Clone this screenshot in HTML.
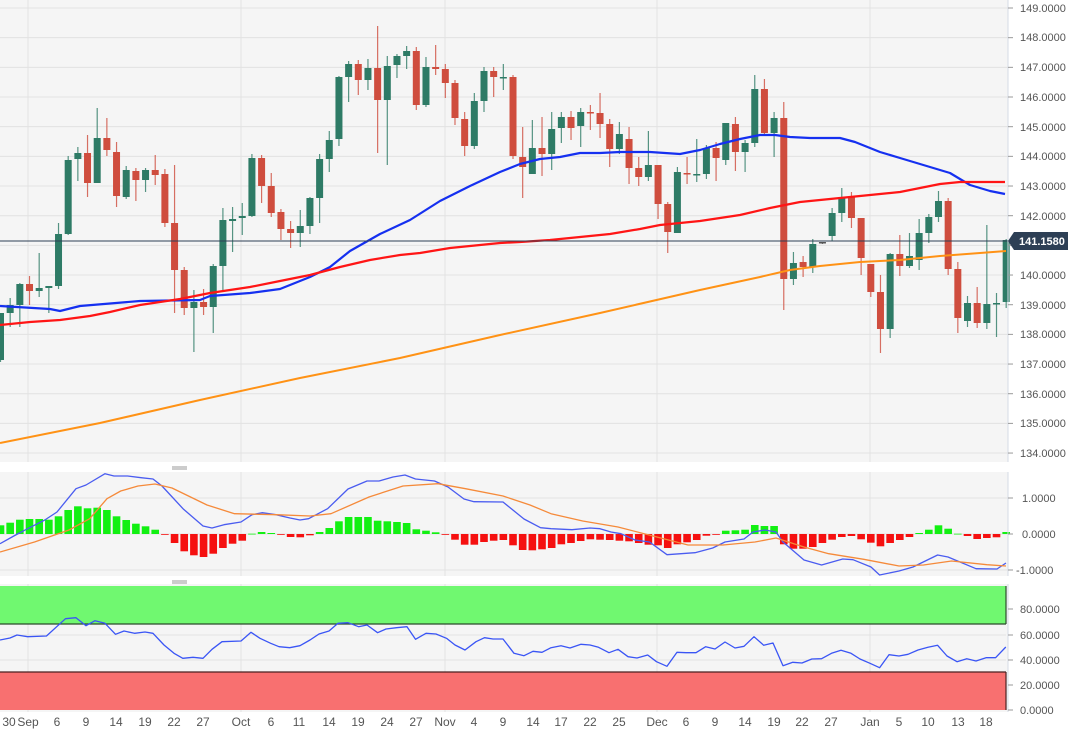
<!DOCTYPE html>
<html><head><meta charset="utf-8"><style>
html,body{margin:0;padding:0;background:#fff;}
svg{display:block;font-family:"Liberation Sans",sans-serif;}
</style></head><body>
<svg id="s" width="1081" height="744" viewBox="0 0 1081 744" xmlns="http://www.w3.org/2000/svg">
<rect x="0" y="0" width="1081" height="744" fill="#fff"/>
<rect x="0" y="0" width="1008" height="462" fill="#f5f5f5"/>
<rect x="0" y="472" width="1008" height="104" fill="#f5f5f5"/>
<rect x="0" y="584" width="1008" height="128" fill="#f5f5f5"/>
<g id="grid" stroke="#e2e2e2" stroke-width="1"></g>
<g id="rsibands">
<rect x="0" y="586" width="1006" height="38" fill="#70f870"/>
<rect x="0" y="672" width="1006" height="38" fill="#f87070"/>
<line x1="0" y1="624" x2="1006" y2="624" stroke="#2a4a2a" stroke-width="1.2"/>
<line x1="0" y1="672" x2="1006" y2="672" stroke="#4a2020" stroke-width="1.2"/>
<line x1="1006" y1="586" x2="1006" y2="624" stroke="#2a4a2a" stroke-width="1.2"/>
<line x1="1006" y1="672" x2="1006" y2="710" stroke="#4a2020" stroke-width="1.2"/>
</g>
<g id="hist"></g>
<g id="cand"></g>
<g id="lines" fill="none"></g>
<line x1="0" y1="241" x2="1008" y2="241" stroke="#2d3f55" stroke-width="1"/>
<g stroke="#d5dbe5"><line x1="1008" y1="0" x2="1008" y2="462"/><line x1="1008" y1="472" x2="1008" y2="576"/><line x1="1008" y1="584" x2="1008" y2="712"/></g>
<g stroke="#999" stroke-width="1"><line x1="172" y1="467" x2="187" y2="467"/><line x1="172" y1="469" x2="187" y2="469"/><line x1="172" y1="581" x2="187" y2="581"/><line x1="172" y1="583" x2="187" y2="583"/></g>
<g id="axis" font-size="11" fill="#555"></g>
<polygon points="1008,241 1014,232 1068,232 1068,250 1014,250" fill="#2d3f55"/>
<text x="1019" y="245" font-size="11" font-weight="bold" fill="#fff">141.1580</text>
<g id="xl" font-size="12" fill="#555" text-anchor="middle">
<text x="9" y="726">30</text><text x="28" y="726">Sep</text><text x="57" y="726">6</text><text x="86" y="726">9</text><text x="116" y="726">14</text><text x="145" y="726">19</text><text x="174" y="726">22</text><text x="203" y="726">27</text><text x="241" y="726">Oct</text><text x="271" y="726">6</text><text x="299" y="726">11</text><text x="329" y="726">14</text><text x="358" y="726">19</text><text x="387" y="726">24</text><text x="416" y="726">27</text><text x="445" y="726">Nov</text><text x="474" y="726">4</text><text x="503" y="726">9</text><text x="533" y="726">14</text><text x="561" y="726">17</text><text x="590" y="726">22</text><text x="619" y="726">25</text><text x="657" y="726">Dec</text><text x="686" y="726">6</text><text x="715" y="726">9</text><text x="745" y="726">14</text><text x="774" y="726">19</text><text x="802" y="726">22</text><text x="831" y="726">27</text><text x="870" y="726">Jan</text><text x="899" y="726">5</text><text x="928" y="726">10</text><text x="958" y="726">13</text><text x="986" y="726">18</text>
</g>
<g font-size="11" fill="#555">
<text x="1020" y="12">149.0000</text><text x="1020" y="41">148.0000</text><text x="1020" y="71">147.0000</text><text x="1020" y="101">146.0000</text><text x="1020" y="131">145.0000</text><text x="1020" y="160">144.0000</text><text x="1020" y="190">143.0000</text><text x="1020" y="220">142.0000</text><text x="1020" y="279">140.0000</text><text x="1020" y="309">139.0000</text><text x="1020" y="338">138.0000</text><text x="1020" y="368">137.0000</text><text x="1020" y="398">136.0000</text><text x="1020" y="427">135.0000</text><text x="1020" y="457">134.0000</text>
<text x="1022" y="502">1.0000</text><text x="1022" y="538">0.0000</text><text x="1016" y="574">-1.0000</text>
<text x="1020" y="613">80.0000</text><text x="1020" y="639">60.0000</text><text x="1020" y="664">40.0000</text><text x="1020" y="689">20.0000</text><text x="1020" y="714">0.0000</text>
</g>
</svg>
<script>
var NS="http://www.w3.org/2000/svg";
function el(p,t,a){var e=document.createElementNS(NS,t);for(var k in a)e.setAttribute(k,a[k]);document.getElementById(p).appendChild(e);return e;}
// grid
for(var i=0;i<=15;i++){var y=8+i*29.67;el('grid','line',{x1:0,y1:y,x2:1008,y2:y});el('axis','line',{x1:1008,y1:y,x2:1013,y2:y,stroke:'#999'});}
[498,534,570].forEach(function(y){el('grid','line',{x1:0,y1:y,x2:1008,y2:y});el('axis','line',{x1:1008,y1:y,x2:1013,y2:y,stroke:'#999'});});
[635,660].forEach(function(y){el('grid','line',{x1:0,y1:y,x2:1006,y2:y});});
[609,635,660,685,710].forEach(function(y){el('axis','line',{x1:1008,y1:y,x2:1013,y2:y,stroke:'#999'});});
[28,241,445,657,870].forEach(function(x){el('grid','line',{x1:x,y1:0,x2:x,y2:462});el('grid','line',{x1:x,y1:472,x2:x,y2:576});el('grid','line',{x1:x,y1:584,x2:x,y2:712});});
var C=[
['g',313,360,313,362],['g',305,313,298,327],['g',284,305,283,327],['r',284,291,276,305],['g',288,291,253,297],['g',286,288,286,313],['g',234,286,223,289],['g',160,234,156,235],['g',153,159,147,181],['r',153,183,135,197],
['g',138,183,108,183],['r',138,150,118,156],['r',152,196,142,207],['g',170,197,166,199],['r',171,180,168,201],['g',170,180,168,192],['r',170,175,155,185],['r',174,223,169,227],['r',223,270,165,313],['r',270,308,267,315],
['g',302,308,290,352],['r',302,307,289,315],['g',266,307,264,333],['g',220,266,208,292],['g',219,221,207,252],['g',216,218,203,235],['g',158,216,154,217],['r',158,186,155,203],['r',186,213,173,217],['r',212,229,209,240],
['r',229,233,221,248],['g',226,233,210,247],['g',198,226,197,234],['g',159,198,154,223],['g',140,159,131,172],['g',77,139,76,146],['g',64,77,61,102],['r',64,80,60,95],['g',68,80,59,90],['r',68,100,26,153],
['g',66,100,56,165],['g',56,65,54,78],['g',51,56,46,69],['r',51,105,47,110],['g',67,105,57,107],['r',67,69,45,75],['r',69,83,64,98],['r',83,118,80,125],['r',119,146,112,156],['g',101,146,93,149],
['g',71,101,67,112],['r',71,77,67,97],['g',77,78,64,90],['r',77,156,75,159],['r',157,167,127,198],['g',148,174,120,174],['r',148,154,117,176],['g',129,154,112,170],['g',117,128,112,143],['r',117,128,111,140],
['g',112,126,108,147],['r',112,113,105,130],['r',113,124,93,138],['r',124,149,119,167],['g',134,149,122,154],['r',139,168,127,184],['r',168,177,157,186],['g',165,177,131,181],['r',165,204,166,219],['r',204,232,202,253],
['g',172,233,167,233],['r',173,174,157,184],['g',174,175,139,182],['g',148,174,145,179],['r',148,158,142,181],['g',123,160,123,165],['r',124,152,117,171],['g',143,152,140,172],['g',89,143,75,147],['r',89,133,79,135],
['g',118,133,112,157],['r',118,279,102,310],['g',263,279,252,285],['r',262,267,256,277],['g',244,267,239,273],['k',242,243,242,244],['g',213,236,208,241],['g',197,213,188,222],['r',197,218,192,228],['r',218,258,218,275],
['r',264,292,264,297],['r',292,329,275,353],['g',254,329,253,338],['r',254,266,235,276],['g',256,266,233,268],['g',233,260,219,270],['g',217,233,214,243],['g',201,217,191,222],['r',201,269,198,275],['r',269,318,262,333],
['g',303,321,296,327],['r',303,323,287,328],['g',304,323,225,329],['g',303,304,293,337],['g',240,302,239,308]];
var col={g:'#2e7b66',r:'#cf4d3e',k:'#555'};
C.forEach(function(c,i){var x=9.67*i+0.5;var f=col[c[0]];
el('cand','line',{x1:x,y1:c[3],x2:x,y2:c[4],stroke:f,'stroke-width':1.2,opacity:0.8});
el('cand','rect',{x:x-3.5,y:c[1],width:7,height:Math.max(1.5,c[2]-c[1]),fill:f});});
var H=[8.7,11.3,14.3,15,15,14.3,17.7,24,27.7,25.7,26.3,24,17.7,14,10.3,7.7,4.3,-0.7,-9,-17.3,-21.3,-23,-19.7,-14,-9.7,-6.7,0.3,2,1,-0.7,-3,-3.3,-1.3,2,6,12.7,17,17,17,13.3,12.7,12,11,4.7,3.3,1.7,-0.7,-5.7,-10.7,-10.7,-8,-6.7,-6,-11.3,-16,-16.3,-15.3,-14,-10.3,-9,-7,-5.3,-5.7,-6,-6.7,-7.3,-9,-10.7,-11.3,-14,-10.3,-8.3,-6,-1.7,-0.3,3.3,3.7,4.3,9,8,8,-10.3,-14.7,-14.7,-13,-9,-5.7,-3,-2,-5.3,-8.7,-12.3,-9,-6,-3,1,4.3,8.7,5.3,0.3,-2,-5,-4,-3.3,2];
H.forEach(function(h,i){var x=9.67*i+0.5;var a=Math.abs(h);
el('hist','rect',{x:x-3.8,y:h>0?534-a:534,width:7.6,height:Math.max(a,0.8),fill:h>0?'#12f012':'#f51010'});});
function pl(pts,c,w){el('lines','polyline',{points:pts,stroke:c,'stroke-width':w,'stroke-linejoin':'round'});}
pl("0,306 50,309 60,311 80,306 140,301 200,300 210,296 250,293 280,289 310,277 330,267 350,251 380,234 410,220 440,201 470,186 500,172 520,164 540,159 560,157 580,153 600,153 620,152 650,152 680,154 700,150 720,144 740,139 760,135 775,135 790,137 810,138 840,138 855,142 880,152 900,158 930,167 950,173 970,185 990,191 1005,194","#1530f0",2.2);
pl("0,325 30,322 60,320 90,316 110,312 140,305 180,299 210,293 250,287 280,281 310,275 340,267 370,260 400,255 420,253 450,248 480,245 500,243 520,242 550,240 580,237 610,234 640,229 660,225 680,223 700,221 740,215 770,208 780,206 800,202 830,199 860,196 880,194 900,192 920,188 940,184 960,182 980,182 1005,182","#ff1515",2.2);
pl("0,443 100,423 200,400 300,378 400,358 500,335 600,313 700,290 760,277 790,270 820,266 860,262 900,260 940,256 980,253 1006,251","#ff9215",2);
pl("0,543.7 13.8,536 27.6,528.7 44.8,520 57,512 76,488.7 86,485 105,473.7 114,476 127.6,476 141,477.7 153,479 162,486 183,508.7 203,526 212,528 224,524.7 241,522 252,514.7 262,512.7 276,514.7 290,518 300,520 308.6,518.7 327.6,508.7 348,489 367,481 379,481 393,477 405,475 415.5,479 434.5,481 448,487 464,499 474,501.7 503,502 524,519 540.5,527.7 551,528.7 572,529.7 590,528 600,528.7 611,532 621,533.7 635,540 649.5,542 667,554.7 695,552.7 712.7,548 725,542 744,539 753,532 765,530 776,532 783,542 804,560 821.6,565 842.7,559 853,559.7 871,567 879.6,575 899,571 913,567 937.6,555 948,557 976,568.7 997,569 1006,563","#4a5cf0",1.3);
pl("0,552 34.5,542 69,530 89.7,518.7 107,498.7 120.7,491 138,486 155,484 172,488 207,505 234.5,513.7 276,514.7 310,516 331,513.7 369,497 403,486 438,483.7 465.5,488.7 503,496 530,505 551,513.7 582.7,521 618,527 653,536 688,545 723,545 755,542 776,538 804,547 828.7,553.7 863.8,559.3 899,566 923.5,565 951.6,561 986.8,564.7 1006,566","#f58a3a",1.3);
pl("0,640 10,638 17,635 27.6,636.7 46.5,636 65.5,618.7 76,617.7 86,625.7 95,620.7 105,623.3 115.5,634.3 124,631 134.5,633.3 145,632 153,633.3 164,645 174,653.3 182.8,658.3 193,657.3 203,658.3 212,649.3 222,641.7 241,641 251,632.3 260,638.3 270.7,643.3 279,646.7 289.7,647.7 300,645.7 310,640 319,634 329,631 338,623.3 348,622.7 358.6,626.7 367,625 377.6,632.7 386,629 396.6,627.7 407,626.7 415.5,639.3 426,633.3 436,634 446.5,638.3 455,645 465,650 476,641.7 484.5,637.7 493,639 503,639 514,653.3 524,655.7 533,651.3 542,652.3 551,647.7 561,645.7 570,648 581,644.3 590,645 598.5,647.3 609,652.7 618,649.3 628,656.7 637,658 647.7,655 656.5,661.7 667,666.3 677,652.3 686,652.7 696,652.7 705.7,646.7 715,649 725,642 735,648 744,646.3 754,636.7 763.7,645.3 773,643 783,665.7 792.8,662.3 802,663 811.8,659 821.6,658.7 831.5,653.3 841,650.3 851,653.3 860,659 870,663.3 879.6,667.7 889,654.7 899,656 908,654.3 918,650 928,647.3 937.6,645.3 947,656 957,661.7 966.8,658.7 976,661 986,657.7 995.6,657.7 1005.8,647","#3a55f5",1.3);
</script>
</body></html>
